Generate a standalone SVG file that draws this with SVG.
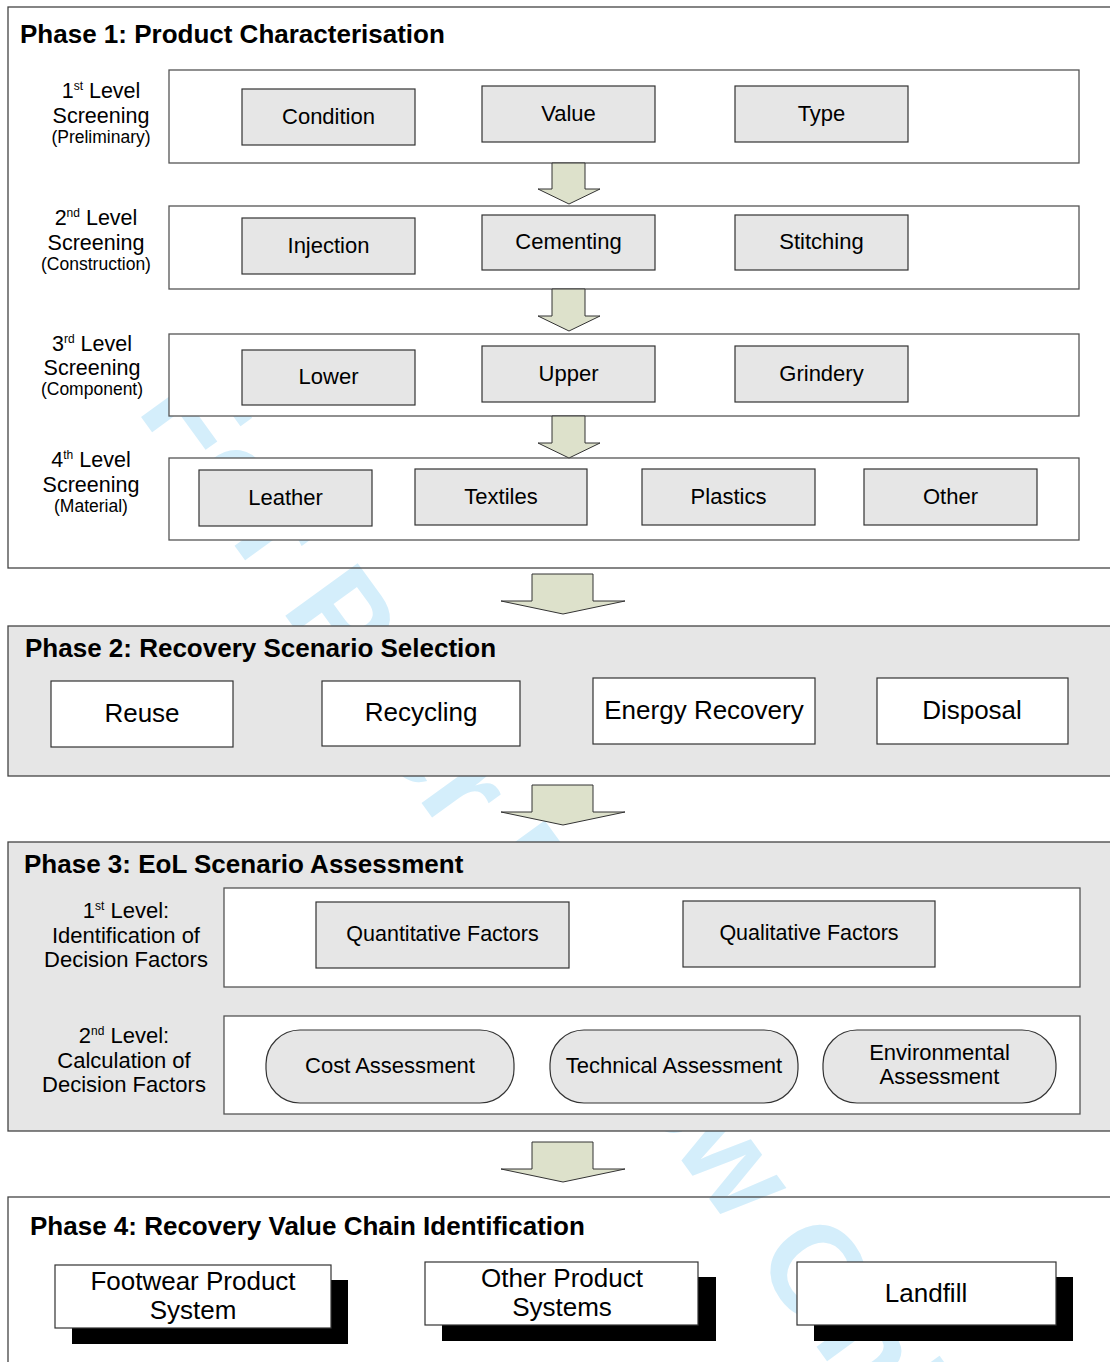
<svg xmlns="http://www.w3.org/2000/svg" width="1110" height="1362" viewBox="0 0 1110 1362">
<style>
.t{font-family:"Liberation Sans",Arial,sans-serif;fill:#000}
.c{text-anchor:middle}
.title{font-weight:bold;font-size:26px}
.lab{font-size:21.5px}
.lab3{font-size:22px}
.sm{font-size:17.5px}
.sup{font-size:12px}
.it{font-size:22px}
.big{font-size:26px}
.mid{font-size:21.5px}
.phase{stroke:#444;stroke-width:1.3}
.frame{fill:#fff;stroke:#555;stroke-width:1.3}
.item{fill:#e6e6e6;stroke:#333;stroke-width:1.2}
.wbox{fill:#fff;stroke:#333;stroke-width:1.2}
.shadow{fill:#000}
.arrow{fill:#dde1cb;stroke:#333;stroke-width:1}
.wm{font-family:"Liberation Sans",Arial,sans-serif;font-weight:bold;font-size:130px;fill:#d4eefb}
</style>
<rect width="1110" height="1362" fill="#fff"/>
<text class="wm" x="136" y="410" transform="rotate(54 136 410)">For Peer Review Only</text>

<g id="phase1">
<rect x="8" y="7" width="1110" height="561" fill="none" class="phase"/>
<text class="t title" x="20" y="43">Phase 1: Product Characterisation</text>
</g>
<g id="level1">
<rect class="frame" x="169" y="70" width="910" height="93"/>
<text class="t lab c" x="101" y="98">1<tspan class="sup" dy="-8">st</tspan><tspan dy="8"> Level</tspan></text>
<text class="t lab c" x="101" y="123">Screening</text>
<text class="t sm c" x="101" y="143">(Preliminary)</text>
</g>
<g id="level2">
<rect class="frame" x="169" y="206" width="910" height="83"/>
<text class="t lab c" x="96" y="225">2<tspan class="sup" dy="-8">nd</tspan><tspan dy="8"> Level</tspan></text>
<text class="t lab c" x="96" y="250">Screening</text>
<text class="t sm c" x="96" y="270">(Construction)</text>
</g>
<g id="level3">
<rect class="frame" x="169" y="334" width="910" height="82"/>
<text class="t lab c" x="92" y="351">3<tspan class="sup" dy="-8">rd</tspan><tspan dy="8"> Level</tspan></text>
<text class="t lab c" x="92" y="375">Screening</text>
<text class="t sm c" x="92" y="395">(Component)</text>
</g>
<g id="level4">
<rect class="frame" x="169" y="458" width="910" height="82"/>
<text class="t lab c" x="91" y="467">4<tspan class="sup" dy="-8">th</tspan><tspan dy="8"> Level</tspan></text>
<text class="t lab c" x="91" y="492">Screening</text>
<text class="t sm c" x="91" y="512">(Material)</text>
</g>
<g id="condition"><rect class="item" x="242" y="89" width="173" height="56"/><text class="t it c" x="328.5" y="124">Condition</text></g>
<g id="value"><rect class="item" x="482" y="86" width="173" height="56"/><text class="t it c" x="568.5" y="121">Value</text></g>
<g id="type"><rect class="item" x="735" y="86" width="173" height="56"/><text class="t it c" x="821.5" y="121">Type</text></g>
<g id="injection"><rect class="item" x="242" y="218" width="173" height="56"/><text class="t it c" x="328.5" y="253">Injection</text></g>
<g id="cementing"><rect class="item" x="482" y="215" width="173" height="55"/><text class="t it c" x="568.5" y="249">Cementing</text></g>
<g id="stitching"><rect class="item" x="735" y="215" width="173" height="55"/><text class="t it c" x="821.5" y="249">Stitching</text></g>
<g id="lower"><rect class="item" x="242" y="350" width="173" height="55"/><text class="t it c" x="328.5" y="384">Lower</text></g>
<g id="upper"><rect class="item" x="482" y="346" width="173" height="56"/><text class="t it c" x="568.5" y="381">Upper</text></g>
<g id="grindery"><rect class="item" x="735" y="346" width="173" height="56"/><text class="t it c" x="821.5" y="381">Grindery</text></g>
<g id="leather"><rect class="item" x="199" y="470" width="173" height="56"/><text class="t it c" x="285.5" y="505">Leather</text></g>
<g id="textiles"><rect class="item" x="415" y="469" width="172" height="56"/><text class="t it c" x="501" y="504">Textiles</text></g>
<g id="plastics"><rect class="item" x="642" y="469" width="173" height="56"/><text class="t it c" x="728.5" y="504">Plastics</text></g>
<g id="other"><rect class="item" x="864" y="469" width="173" height="56"/><text class="t it c" x="950.5" y="504">Other</text></g>

<g id="phase2">
<rect x="8" y="626" width="1110" height="150" fill="#e6e6e6" class="phase"/>
<text class="t title" x="25" y="657">Phase 2: Recovery Scenario Selection</text>
</g>
<g id="reuse"><rect class="wbox" x="51" y="681" width="182" height="66"/><text class="t big c" x="142" y="722">Reuse</text></g>
<g id="recycling"><rect class="wbox" x="322" y="681" width="198" height="65"/><text class="t big c" x="421" y="721">Recycling</text></g>
<g id="energy"><rect class="wbox" x="593" y="678" width="222" height="66"/><text class="t big c" x="704" y="719">Energy Recovery</text></g>
<g id="disposal"><rect class="wbox" x="877" y="678" width="191" height="66"/><text class="t big c" x="972" y="719">Disposal</text></g>

<g id="phase3">
<rect x="8" y="842" width="1110" height="289" fill="#e6e6e6" class="phase"/>
<text class="t title" x="24" y="873">Phase 3: EoL Scenario Assessment</text>
</g>
<g id="p3level1">
<rect class="frame" x="224" y="888" width="856" height="99"/>
<text class="t lab3 c" x="126" y="918">1<tspan class="sup" dy="-8">st</tspan><tspan dy="8"> Level:</tspan></text>
<text class="t lab3 c" x="126" y="943">Identification of</text>
<text class="t lab3 c" x="126" y="967">Decision Factors</text>
</g>
<g id="p3level2">
<rect class="frame" x="224" y="1016" width="856" height="98"/>
<text class="t lab3 c" x="124" y="1043">2<tspan class="sup" dy="-8">nd</tspan><tspan dy="8"> Level:</tspan></text>
<text class="t lab3 c" x="124" y="1068">Calculation of</text>
<text class="t lab3 c" x="124" y="1092">Decision Factors</text>
</g>
<g id="quantitative"><rect class="item" x="316" y="902" width="253" height="66"/><text class="t mid c" x="442.5" y="941">Quantitative Factors</text></g>
<g id="qualitative"><rect class="item" x="683" y="901" width="252" height="66"/><text class="t mid c" x="809" y="940">Qualitative Factors</text></g>
<g id="cost"><rect class="item" x="266" y="1030" width="248" height="73" rx="34" ry="34"/><text class="t it c" x="390" y="1073">Cost Assessment</text></g>
<g id="technical"><rect class="item" x="550" y="1030" width="248" height="73" rx="34" ry="34"/><text class="t it c" x="674" y="1073">Technical Assessment</text></g>
<g id="environmental"><rect class="item" x="823" y="1030" width="233" height="73" rx="34" ry="34"/><text class="t it c" x="939.5" y="1060">Environmental</text><text class="t it c" x="939.5" y="1084">Assessment</text></g>

<g id="phase4">
<rect x="8" y="1197" width="1110" height="200" fill="none" class="phase"/>
<text class="t title" x="30" y="1235">Phase 4: Recovery Value Chain Identification</text>
</g>
<g id="footwear"><rect class="shadow" x="72" y="1280" width="276" height="64"/><rect class="wbox" x="55" y="1265" width="276" height="63"/><text class="t big c" x="193" y="1290">Footwear Product</text><text class="t big c" x="193" y="1319">System</text></g>
<g id="otherproduct"><rect class="shadow" x="442" y="1277" width="274" height="64"/><rect class="wbox" x="425" y="1262" width="273" height="63"/><text class="t big c" x="562" y="1287">Other Product</text><text class="t big c" x="562" y="1316">Systems</text></g>
<g id="landfill"><rect class="shadow" x="814" y="1277" width="259" height="64"/><rect class="wbox" x="797" y="1262" width="259" height="63"/><text class="t big c" x="926" y="1302">Landfill</text></g>

<g id="connectors">
<polygon class="arrow" points="538,189 552,189 552,163 585,163 585,189 600,189 569,204"/>
<polygon class="arrow" points="538,316 552,316 552,289 585,289 585,316 600,316 569,331"/>
<polygon class="arrow" points="538,443 552,443 552,416 585,416 585,443 600,443 569,458"/>
<polygon class="arrow" points="501,601 532,601 532,574 593,574 593,601 625,601 563,614"/>
<polygon class="arrow" points="501,812 532,812 532,785 593,785 593,812 625,812 563,825"/>
<polygon class="arrow" points="501,1169 532,1169 532,1142 593,1142 593,1169 625,1169 563,1182"/>
</g>
</svg>
